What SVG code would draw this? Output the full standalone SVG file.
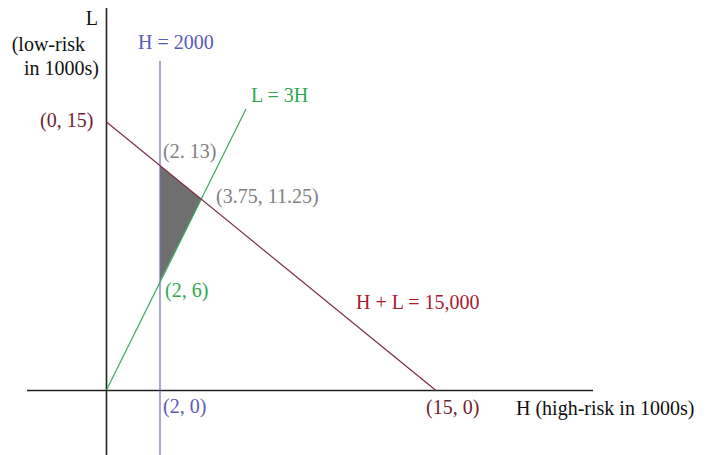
<svg xmlns="http://www.w3.org/2000/svg" width="712" height="455" viewBox="0 0 712 455">
<style>
text{font-family:"Liberation Serif","Times New Roman",serif;font-size:20px}
.ax{stroke:#222;stroke-width:1.6;fill:none}
.blue{fill:#5a5ab8}
.green{fill:#2fa84f}
.maroon{fill:#6e2230}
.red{fill:#a8202c}
.gray{fill:#808080}
.dark{fill:#111}
</style>
<rect width="712" height="455" fill="#fff"/>
<g id="region">
<polygon points="160,165.7 201.4,199.3 160,281" fill="#6f6f6f"/>
</g>
<g id="connectors">
<line class="ax" x1="106.5" y1="8" x2="106.5" y2="455"/>
<line class="ax" x1="27" y1="390.5" x2="593" y2="390.5"/>
<line x1="160" y1="61" x2="160" y2="455" stroke="#6f6fb8" stroke-width="1.2"/>
<line x1="106.5" y1="390" x2="246" y2="109" stroke="#3aa85a" stroke-width="1.2"/>
<line x1="106.5" y1="122" x2="436" y2="390.5" stroke="#7a2e3e" stroke-width="1.2"/>
</g>
<g id="axis-labels">
<text class="dark" x="98" y="25" text-anchor="end">L</text>
<text class="dark" x="85" y="51" text-anchor="end">(low-risk</text>
<text class="dark" x="99" y="75" text-anchor="end">in 1000s)</text>
<text class="dark" x="516" y="415">H (high-risk in 1000s)</text>
</g>
<g id="line-labels">
<text class="blue" x="138" y="49">H = 2000</text>
<text class="green" x="251" y="102">L = 3H</text>
<text class="red" x="356" y="309">H + L = 15,000</text>
</g>
<g id="point-labels">
<text class="maroon" x="40" y="127">(0, 15)</text>
<text class="gray" x="163" y="158">(2. 13)</text>
<text class="gray" x="216" y="203">(3.75, 11.25)</text>
<text class="green" x="165" y="297">(2, 6)</text>
<text class="blue" x="163" y="413">(2, 0)</text>
<text class="maroon" x="426" y="414">(15, 0)</text>
</g>
</svg>
